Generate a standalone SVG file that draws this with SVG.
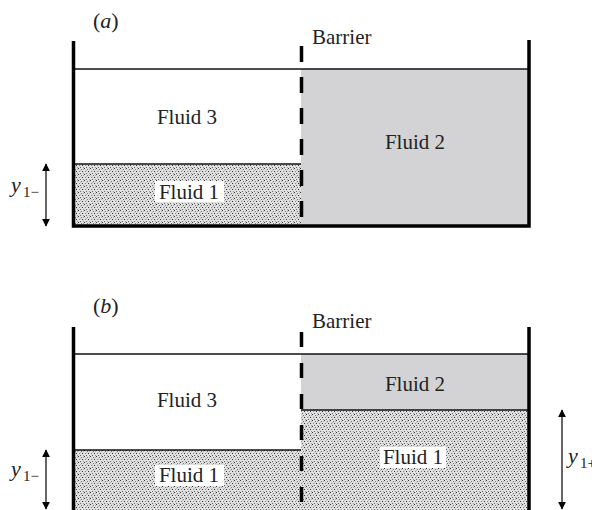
<svg xmlns="http://www.w3.org/2000/svg" width="592" height="510" viewBox="0 0 592 510">
<defs>
<pattern id="stip" width="6" height="6" patternUnits="userSpaceOnUse">
<rect width="6" height="6" fill="#e0e0e0"/>
<rect x="0" y="0" width="1" height="1" fill="#333"/>
<rect x="3" y="1" width="1" height="1" fill="#777"/>
<rect x="1" y="3" width="1" height="1" fill="#888"/>
<rect x="4" y="3" width="1" height="1" fill="#333"/>
<rect x="2" y="5" width="1" height="1" fill="#666"/>
<rect x="5" y="5" width="1" height="1" fill="#999"/>
<rect x="5" y="1" width="1" height="1" fill="#aaa"/>
<rect x="2" y="2" width="1" height="1" fill="#bbb"/>
</pattern>
<marker id="ah" viewBox="0 0 10 10" refX="9" refY="5" markerWidth="8" markerHeight="9" markerUnits="userSpaceOnUse" orient="auto-start-reverse">
<path d="M0,0 L10,5 L0,10 z" fill="#000"/>
</marker>
</defs>
<style>
text{font-family:"Liberation Serif","Times New Roman",serif;fill:#222;}
.lbl{font-size:21px;text-anchor:middle;}
.wall{stroke:#000;stroke-width:3.5;fill:none;}
.thin{stroke:#111;stroke-width:1.3;fill:none;}
.barrier{stroke:#000;stroke-width:3.5;fill:none;}
.f2{fill:#d3d3d5;}
.f1{fill:url(#stip);}
.dim{stroke:#000;stroke-width:1.2;marker-start:url(#ah);marker-end:url(#ah);}
.yv{font-size:22px;font-style:italic;}
.sub{font-size:15px;}
</style>

<g id="panel-a">
<text x="93" y="28" font-size="22">(<tspan font-style="italic">a</tspan>)</text>
<g id="a-fluid2"><rect class="f2" x="301" y="69" width="227" height="156"/><text class="lbl" x="415" y="149">Fluid 2</text></g>
<g id="a-fluid1"><rect class="f1" x="75" y="164" width="226" height="61"/><line class="thin" x1="75" y1="164" x2="301" y2="164"/><rect x="155" y="181" width="69" height="21" fill="#fff"/><text class="lbl" x="189" y="199">Fluid 1</text></g>
<g id="a-fluid3"><text class="lbl" x="187" y="124">Fluid 3</text></g>
<line class="thin" x1="75" y1="69" x2="528" y2="69"/>
<path class="wall" d="M73.5,41 V226 H529 V40"/>
<g id="a-barrier"><line class="barrier" x1="301.5" y1="46" x2="301.5" y2="224" stroke-dasharray="16 15"/><text x="312" y="44" font-size="21">Barrier</text></g>
<g id="a-y1"><text class="yv" x="11" y="192">y</text><text class="sub" x="23" y="197">1−</text></g>
</g>

<g id="panel-b">
<text x="93" y="313" font-size="22">(<tspan font-style="italic">b</tspan>)</text>
<g id="b-fluid2"><rect class="f2" x="301" y="354" width="227" height="56"/><text class="lbl" x="415" y="391">Fluid 2</text></g>
<g id="b-fluid1-right"><rect class="f1" x="301" y="410" width="227" height="100"/><line class="thin" x1="301" y1="410" x2="528" y2="410"/><rect x="380" y="447" width="66" height="21" fill="#fff"/><text class="lbl" x="413" y="464">Fluid 1</text></g>
<g id="b-fluid1-left"><rect class="f1" x="75" y="450" width="226" height="60"/><line class="thin" x1="75" y1="450" x2="301" y2="450"/><rect x="155" y="465" width="69" height="21" fill="#fff"/><text class="lbl" x="189" y="482">Fluid 1</text></g>
<g id="b-fluid3"><text class="lbl" x="187" y="407">Fluid 3</text></g>
<line class="thin" x1="75" y1="354" x2="528" y2="354"/>
<path class="wall" d="M73.5,327 V512 M529,512 V327"/>
<g id="b-barrier"><line class="barrier" x1="301.5" y1="332" x2="301.5" y2="510" stroke-dasharray="15 16"/><text x="312" y="328" font-size="21">Barrier</text></g>
<g id="b-y1m"><text class="yv" x="11" y="476">y</text><text class="sub" x="23" y="481">1−</text></g>
<g id="b-y1p"><text class="yv" x="568" y="463">y</text><text class="sub" x="580" y="468">1+</text></g>
</g>

<g id="connectors">
<line class="dim" x1="46" y1="164" x2="46" y2="226"/>
<line class="dim" x1="46" y1="450" x2="46" y2="509"/>
<line class="dim" x1="562" y1="410" x2="562" y2="509"/>
</g>
</svg>
